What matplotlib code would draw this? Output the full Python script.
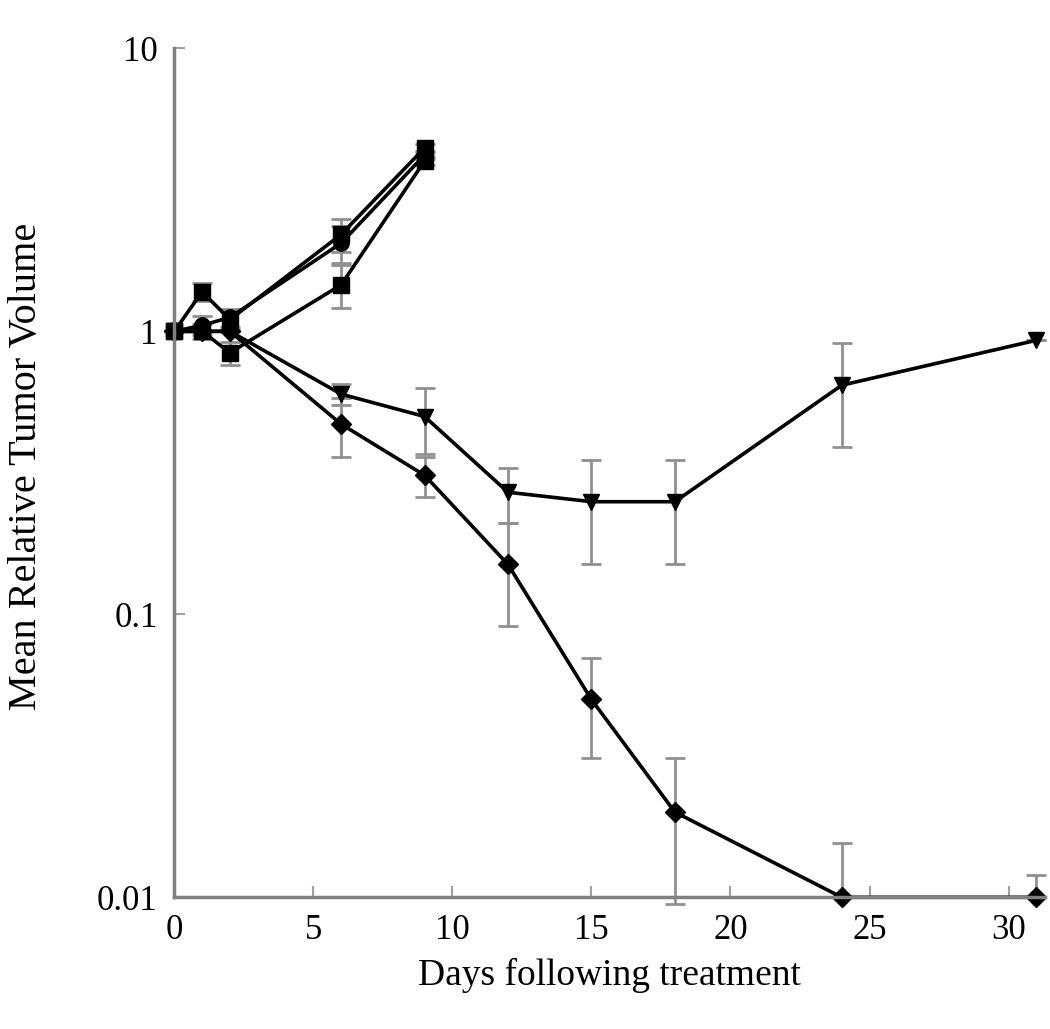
import matplotlib
matplotlib.use("Agg")
import matplotlib.pyplot as plt
from matplotlib.ticker import FixedLocator, FixedFormatter

plt.rcParams['font.family'] = ['Liberation Serif', 'DejaVu Serif']

# growing groups (stopped at day 9)
days_short = [0, 1, 2, 6, 9]
grow_a = [1.0, 1.38, 1.10, 2.20, 4.45]
grow_a_err = [0.0, 0.10, 0.08, 0.30, 0.15]
grow_b = [1.0, 1.05, 1.12, 2.05, 4.20]
grow_b_err = [0.0, 0.08, 0.08, 0.30, 0.15]
grow_c = [1.0, 1.00, 0.84, 1.46, 4.00]
grow_c_err = [0.0, 0.06, 0.08, 0.25, 0.12]

# treated groups
days_long = [0, 1, 2, 6, 9, 12, 15, 18, 24, 31]
tri_vals = [1.0, 1.0, 1.0, 0.60, 0.50, 0.27, 0.25, 0.25, 0.645, 0.93]
tri_lo = [0.0, 0.0, 0.0, 0.05, 0.13, 0.06, 0.10, 0.10, 0.255, 0.0]
tri_hi = [0.0, 0.0, 0.0, 0.05, 0.13, 0.06, 0.10, 0.10, 0.265, 0.0]
dot_vals = [1.0, 1.0, 1.0, 0.47, 0.31, 0.15, 0.050, 0.020, 0.010, 0.010]
dot_lo = [0.0, 0.0, 0.0, 0.11, 0.05, 0.059, 0.019, 0.0105, 0.0, 0.0]
dot_hi = [0.0, 0.0, 0.0, 0.11, 0.05, 0.06, 0.020, 0.011, 0.0055, 0.002]

x_ticks = [0, 5, 10, 15, 20, 25, 30]
y_ticks = [0.01, 0.1, 1, 10]
y_labels = ['0.01', '0.1', '1', '10']

fig = plt.figure(figsize=(10.5, 10.29), dpi=100)
ax = fig.add_axes([0.166, 0.128, 0.829, 0.825])

err_style = dict(ecolor='#909090', elinewidth=2, capsize=7, capthick=2)
line_style = dict(color='black', lw=2.6, clip_on=False)

ax.errorbar(days_short, grow_a, yerr=grow_a_err, marker='s', ms=11, **line_style, **err_style)
ax.errorbar(days_short, grow_b, yerr=grow_b_err, marker='o', ms=11, **line_style, **err_style)
ax.errorbar(days_short, grow_c, yerr=grow_c_err, marker='s', ms=11, **line_style, **err_style)
ax.errorbar(days_long, tri_vals, yerr=[tri_lo, tri_hi], marker='v', ms=11, **line_style, **err_style)
ax.errorbar(days_long, dot_vals, yerr=[dot_lo, dot_hi], marker='D', ms=10, **line_style, **err_style)

ax.set_yscale('log')
ax.set_ylim(0.01, 10)
ax.set_xlim(0, 31.3)
ax.yaxis.set_major_locator(FixedLocator(y_ticks))
ax.yaxis.set_major_formatter(FixedFormatter(y_labels))
ax.yaxis.set_minor_locator(FixedLocator([]))
ax.set_xticks(x_ticks)

for side in ['top', 'right']:
    ax.spines[side].set_visible(False)
for side in ['left', 'bottom']:
    ax.spines[side].set_color('#808080')
    ax.spines[side].set_linewidth(2.5)

ax.tick_params(direction='in', length=8, width=1.5, color='#a0a0a0', labelsize=25, pad=12)

ax.set_xlabel('Days following treatment', fontsize=27, labelpad=8)
ax.set_ylabel('Mean Relative Tumor Volume', fontsize=29)
ax.yaxis.set_label_coords(-0.148, 0.508)

fig.savefig('out.png', dpi=100)
